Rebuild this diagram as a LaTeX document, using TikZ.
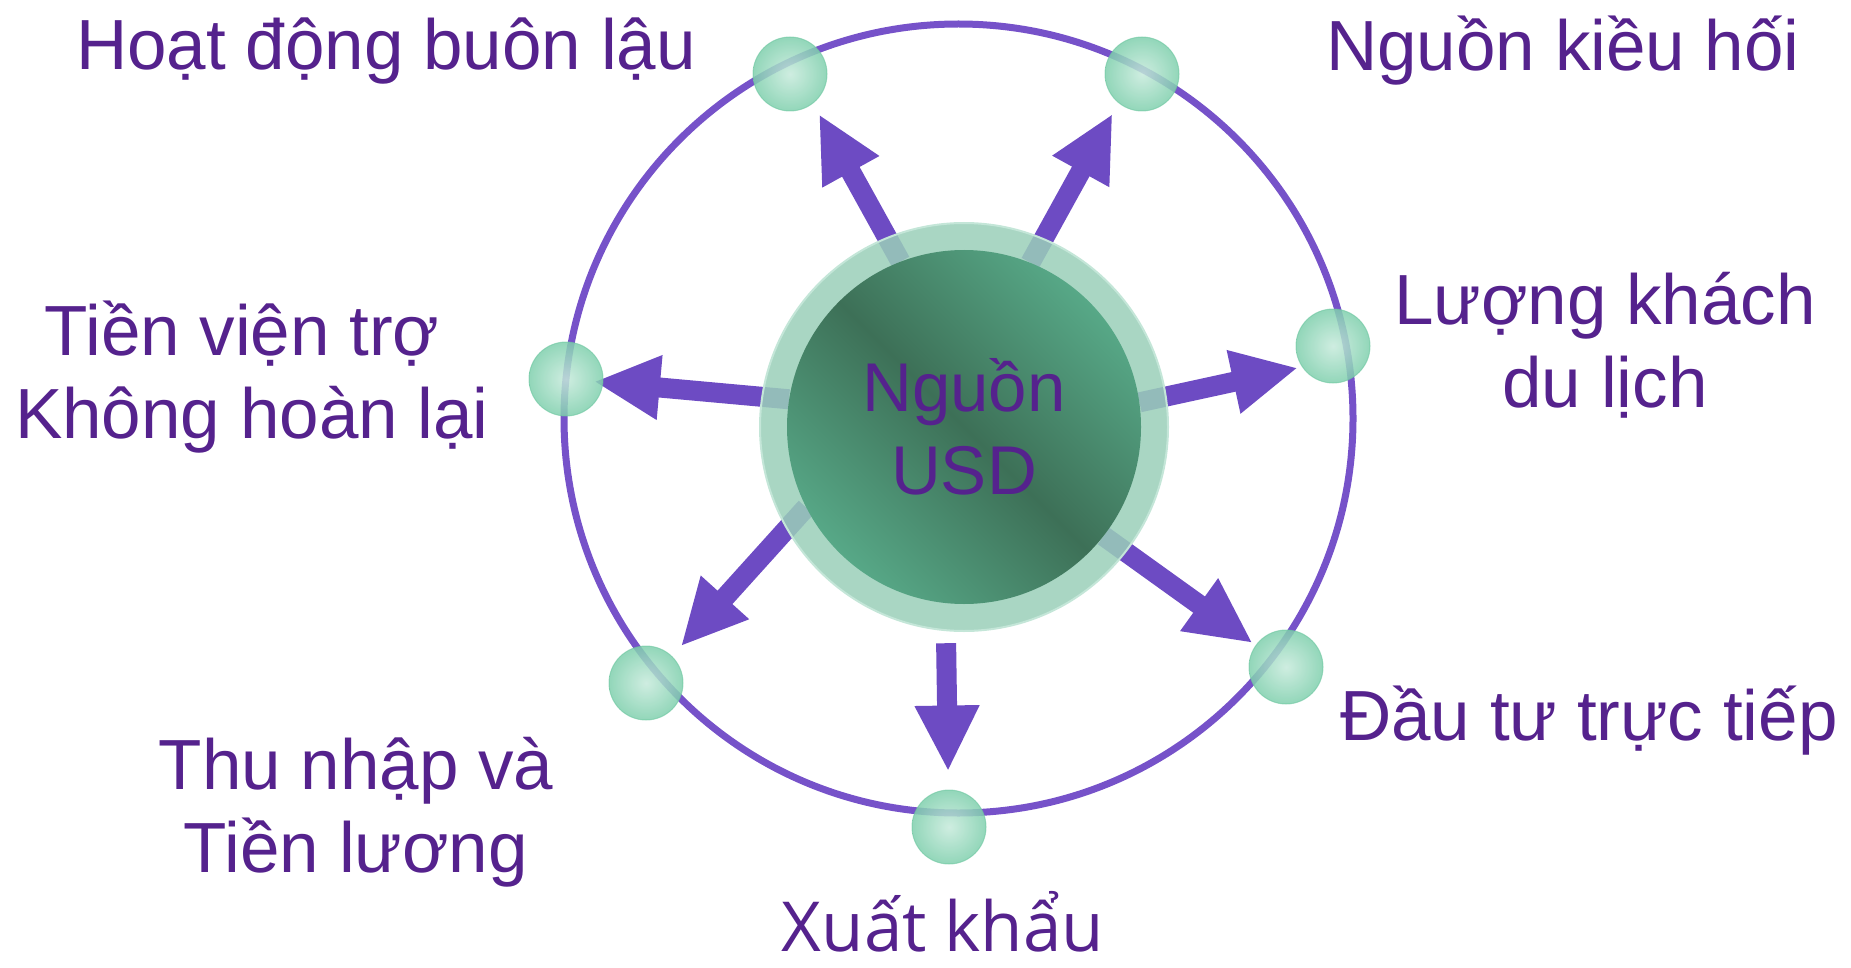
\documentclass[tikz,border=0pt]{standalone}
\usepackage{fontspec}
\setmainfont{Liberation Sans}
\newfontfamily\openfont{Open Sans}
\usetikzlibrary{arrows.meta}
\definecolor{ringpurple}{HTML}{7652C9}
\definecolor{flowpurple}{HTML}{6D4BC3}
\definecolor{textpurple}{HTML}{55228D}
\definecolor{beadgreen}{HTML}{7FCFAD}
\definecolor{beadlight}{HTML}{C6EADB}
\definecolor{beadedge}{HTML}{6DC7A0}
\definecolor{rimgreen}{HTML}{9ACFB9}
\definecolor{rimedge}{HTML}{C4E6D8}
\definecolor{corelight}{HTML}{57A887}
\definecolor{coredark}{HTML}{3D7057}
\pgfdeclarelayer{background}
\pgfsetlayers{background,main}
\tikzstyle{orbit} = [draw=ringpurple, line width=7pt]
\tikzstyle{bead} = [circle, minimum size=74pt, inner sep=0pt, inner color=beadlight, outer color=beadgreen, draw=beadedge, line width=1pt, fill opacity=0.85, draw opacity=0.6]
\tikzstyle{rim} = [circle, minimum size=408pt, inner sep=0pt, fill=rimgreen, fill opacity=0.85, draw=rimedge, line width=2pt]
\tikzstyle{core} = [circle, minimum size=354pt, inner sep=0pt, left color=corelight, right color=corelight, middle color=coredark, shading angle=-45, text=textpurple, font=\fontsize{69}{83}\selectfont, align=center]
\tikzstyle{flow} = [draw=flowpurple, line width=20pt, -{Triangle[width=60pt, length=66pt]}]
\tikzstyle{source} = [text=textpurple, font=\fontsize{71}{83}\selectfont, align=center, anchor=base, inner sep=0pt]

\begin{document}
\begin{tikzpicture}[x=1pt, y=-1pt]
  \useasboundingbox (0,0) rectangle (1851,968);
  % Outer ring
  \draw[orbit] (958.5,418.5) circle[radius=394.5pt];
  % Beads on the ring
  \foreach \name/\x/\y in {c1/790/74, c2/1142/74, c3/1333/346, c4/566/379, c5/646/683, c6/1286/667, c7/949/827} {
    \node[bead] (\name) at (\x,\y) {};
  }
  % Hub
  \node[rim] (rim) at (964,427) {};
  \node[core] (usd) at (964,427) {Nguồn\\USD};
  % Arrows
  \begin{pgfonlayer}{background}
    \foreach \from/\to/\lead/\gap in {usd.111/c1.308/0pt/12pt, usd.68/c2.231/0pt/12pt, usd.8/c3.214/0pt/4pt, usd.171/c4.center/0pt/28pt, usd.207/c5.46/0pt/13pt, usd.264/c7.91/40pt/18pt, usd.322/c6.center/0pt/41pt} {
      \draw[flow, shorten <=\lead, shorten >=\gap] (\from) -- (\to);
    }
  \end{pgfonlayer}
  % Sources
  \node[source] (buonlau) at (386,70) {Hoạt động buôn lậu};
  \node[source] (kieuhoi) at (1563,71) {Nguồn kiều hối};
  \node[source] (dulich) at (1605,407) {Lượng khách\\du lịch};
  \node[source] (vientro) at (252,438) {Tiền viện trợ\kern0.28em\\Không hoàn lại};
  \node[source] (thunhap) at (356,872) {Thu nhập và\\Tiền lương};
  \node[source, font=\openfont\fontsize{69}{83}\selectfont] (xuatkhau) at (943,951) {Xuất khẩu};
  \node[source] (dautu) at (1589,740) {Đầu tư trực tiếp};
\end{tikzpicture}
\end{document}
